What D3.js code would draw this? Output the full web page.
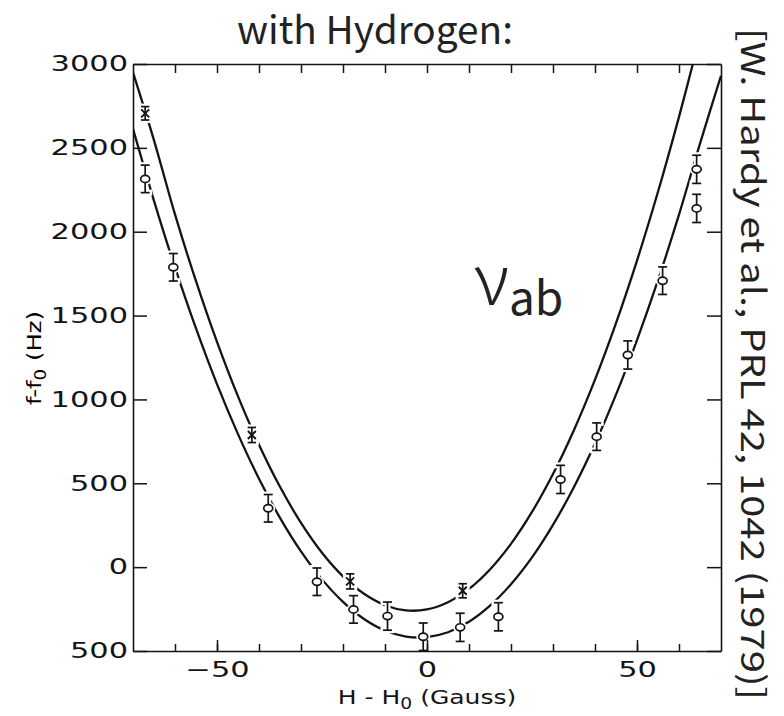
<!DOCTYPE html>
<html><head><meta charset="utf-8">
<script src="https://cdn.jsdelivr.net/npm/d3@7/dist/d3.min.js"></script>
<style>html,body{margin:0;padding:0;background:#fff;} svg{display:block} text{-webkit-font-smoothing:antialiased;}</style>
</head><body>
<svg id="chart" width="784" height="716"></svg>
<script>
// ---------------- data ----------------
const xDomain = [-70, 70];
const yDomain = [-500, 3000];
const xTicks = [-60, -50, -40, -30, -20, -10, 0, 10, 20, 30, 40, 50, 60];
const xLabelTicks = [-50, 0, 50];
const xTickLabels = ["\u221250", "0", "50"];
const yTicks = [-500, 0, 500, 1000, 1500, 2000, 2500, 3000];
const yTickLabels = ["500", "0", "500", "1000", "1500", "2000", "2500", "3000"];

// open circles (lower branch)
const circleX = [-67.1, -60.4, -37.8, -26.2, -17.5, -9.4, -0.9, 7.9, 17.0, 31.8, 40.4, 47.8, 56.1, 64.2, 64.2];
const circleY = [2315, 1788, 351, -87, -252, -292, -415, -359, -296, 523, 778, 1265, 1708, 2372, 2139];
const circleErr = [82, 82, 82, 82, 82, 84, 82, 84, 84, 84, 82, 84, 82, 84, 84];

// crosses (upper branch)
const starX = [-67.1, -41.7, -18.3, 8.5];
const starY = [2706, 788, -85, -141];
const starErr = [40, 45, 45, 42];

// fitted curves
const upperCurveX = [-70, -65, -60, -55, -50, -45, -40, -35, -30, -25, -20, -15, -10, -5, 0, 5, 10, 15, 20, 25, 30, 35, 40, 45, 50, 55, 60, 63.3];
const upperCurveY = [2950, 2545, 2103, 1705, 1343, 1018, 730, 479, 264, 86, -55, -159, -227, -258, -252, -209, -130, -14, 139, 329, 555, 818, 1118, 1455, 1828, 2238, 2685, 3000];
const lowerCurveX = [-70, -65, -60, -55, -50, -45, -40, -35, -30, -25, -20, -15, -10, -5, 0, 5, 10, 15, 20, 25, 30, 35, 40, 45, 50, 55, 60, 65, 70];
const lowerCurveY = [2613, 2184, 1787, 1423, 1091, 793, 527, 294, 94, -73, -207, -309, -378, -414, -417, -388, -326, -230, -102, 58, 252, 478, 737, 1029, 1354, 1711, 2102, 2525, 2930];

const titleText = "with Hydrogen:";
const citationText = "[W. Hardy et al., PRL 42, 1042 (1979)]";
const xTitle = ["H - H", "0", " (Gauss)"];
const yTitle = ["f-f", "0", " (Hz)"];
const curveLabel = ["\u03bd", "ab"];

// ---------------- layout ----------------
const L = 133, R = 721, T = 64, B = 651;
const ink = "#141414";
const svg = d3.select("#chart");
const x = d3.scaleLinear().domain(xDomain).range([L, R]);
const y = d3.scaleLinear().domain(yDomain).range([B, T]);

svg.append("defs").append("clipPath").attr("id", "clip")
  .append("rect").attr("x", L).attr("y", T).attr("width", R - L).attr("height", B - T);

// curves
const line = d3.line().x(d => x(d[0])).y(d => y(d[1])).curve(d3.curveCatmullRom.alpha(0.5));
const plot = svg.append("g").attr("clip-path", "url(#clip)");
[[upperCurveX, upperCurveY], [lowerCurveX, lowerCurveY]].forEach(([xs, ys]) => {
  plot.append("path").datum(xs.map((v, i) => [v, ys[i]]))
    .attr("d", line).attr("fill", "none").attr("stroke", ink).attr("stroke-width", 2.3);
});

const circles = circleX.map((v, i) => ({ x: v, y: circleY[i], e: circleErr[i] }));
const stars = starX.map((v, i) => ({ x: v, y: starY[i], e: starErr[i] }));

// white halos (gaps in curves around markers)
const halo = plot.append("g").attr("stroke", "#fff").attr("fill", "#fff");
function drawBars(g, data, w, capHalf, ext) {
  g.selectAll(null).data(data).join("line")
    .attr("x1", d => x(d.x)).attr("x2", d => x(d.x))
    .attr("y1", d => y(d.y + d.e) - ext).attr("y2", d => y(d.y - d.e) + ext)
    .attr("stroke-width", w);
  ["top", "bot"].forEach(k => {
    g.selectAll(null).data(data).join("line")
      .attr("x1", d => x(d.x) - capHalf).attr("x2", d => x(d.x) + capHalf)
      .attr("y1", d => y(k === "top" ? d.y + d.e : d.y - d.e))
      .attr("y2", d => y(k === "top" ? d.y + d.e : d.y - d.e))
      .attr("stroke-width", w);
  });
}
drawBars(halo, circles, 6, 7, 2);
drawBars(halo, stars, 6, 7, 2);
halo.selectAll(null).data(circles).join("ellipse")
  .attr("cx", d => x(d.x)).attr("cy", d => y(d.y)).attr("rx", 7).attr("ry", 6).attr("stroke", "none");
halo.selectAll(null).data(stars).join("rect")
  .attr("x", d => x(d.x) - 7).attr("y", d => y(d.y) - 7).attr("width", 14).attr("height", 14).attr("stroke", "none");

// markers
const mk = svg.append("g").attr("stroke", ink).attr("fill", "none");
drawBars(mk, circles, 1.7, 4.5, 0);
drawBars(mk, stars, 1.7, 4.2, 0);
mk.selectAll(null).data(circles).join("ellipse")
  .attr("cx", d => x(d.x)).attr("cy", d => y(d.y)).attr("rx", 4.5).attr("ry", 3.6)
  .attr("fill", "#fff").attr("stroke-width", 1.7);
mk.selectAll(null).data(stars).join("path")
  .attr("d", d => { const cx = x(d.x), cy = y(d.y);
    return `M${cx-4},${cy-4}L${cx+4},${cy+4}M${cx-4},${cy+4}L${cx+4},${cy-4}`; })
  .attr("stroke-width", 1.9);

// axes (frame)
function styleAxis(g) {
  g.attr("color", ink);
  g.selectAll("path.domain").attr("stroke-width", 1.6);
  g.selectAll(".tick line").attr("stroke-width", 1.5);
}
const tickFont = t => t.attr("font-family", "'DejaVu Sans', sans-serif").attr("font-size", 21).attr("fill", ink);

const gLeft = svg.append("g").attr("transform", `translate(${L},0)`)
  .call(d3.axisLeft(y).tickValues(yTicks).tickSizeInner(-14).tickSizeOuter(0).tickPadding(5)
    .tickFormat((d, i) => yTickLabels[i]));
styleAxis(gLeft);
gLeft.selectAll("text").call(tickFont).attr("transform", "scale(1.45,1)").attr("x", -5 / 1.45);

const gRight = svg.append("g").attr("transform", `translate(${R},0)`)
  .call(d3.axisRight(y).tickValues(yTicks).tickSizeInner(-14).tickSizeOuter(0).tickFormat(""));
styleAxis(gRight);

const gTop = svg.append("g").attr("transform", `translate(0,${T})`)
  .call(d3.axisTop(x).tickValues(xTicks).tickSizeInner(-9).tickSizeOuter(0).tickFormat(""));
styleAxis(gTop);

const gBot = svg.append("g").attr("transform", `translate(0,${B})`)
  .call(d3.axisBottom(x).tickValues(xTicks).tickSizeInner(-7).tickSizeOuter(0).tickFormat(""));
styleAxis(gBot);
const gBotLab = svg.append("g").attr("transform", `translate(0,${B})`)
  .call(d3.axisBottom(x).tickValues(xLabelTicks).tickSizeInner(-11).tickSizeOuter(0).tickPadding(11)
    .tickFormat((d, i) => xTickLabels[i]));
styleAxis(gBotLab);
gBotLab.select("path.domain").remove();
gBotLab.selectAll("text").call(tickFont).attr("transform", "scale(1.45,1)");

// axis titles
const xt = svg.append("text").attr("transform", "translate(427,704) scale(1.25,1)").attr("text-anchor", "middle")
  .attr("font-family", "'DejaVu Sans', sans-serif").attr("font-size", 20).attr("fill", ink);
xt.append("tspan").text(xTitle[0]);
xt.append("tspan").text(xTitle[1]).attr("font-size", 15).attr("dy", 5);
xt.append("tspan").text(xTitle[2]).attr("dy", -5);

const yt = svg.append("text").attr("transform", "translate(41,358) rotate(-90) scale(1.22,1)").attr("text-anchor", "middle")
  .attr("font-family", "'DejaVu Sans', sans-serif").attr("font-size", 20).attr("fill", "#000");
yt.append("tspan").text(yTitle[0]);
yt.append("tspan").text(yTitle[1]).attr("font-size", 15).attr("dy", 5);
yt.append("tspan").text(yTitle[2]).attr("dy", -5);

// title
const cjk = "'Noto Sans CJK JP', 'Noto Sans', sans-serif";
const title = svg.append("text").text(titleText).attr("x", 375).attr("y", 44)
  .attr("text-anchor", "middle").attr("font-family", cjk).attr("font-size", 40).attr("fill", "#222");
{ const w = title.node().getComputedTextLength(); title.attr("font-size", 40 * 276 / w); }

// citation (rotated)
const cit = svg.append("text").text(citationText)
  .attr("text-anchor", "middle").attr("font-family", cjk).attr("font-size", 40).attr("fill", "#222");
{
  const w = cit.node().getComputedTextLength();
  const fit = 40 * 672 / w, fs = fit * 0.82;
  cit.attr("font-size", fs).attr("transform", `translate(741,364) rotate(90) scale(${fit / fs},1)`);
}

// curve label
const lab = svg.append("text").attr("x", 474).attr("y", 305).attr("font-family", cjk).attr("fill", "#222");
lab.append("tspan").text(curveLabel[0]).attr("font-size", 70).attr("font-weight", 300);
lab.append("tspan").text(curveLabel[1]).attr("font-size", 46).attr("dy", 10);
</script>
</body></html>
